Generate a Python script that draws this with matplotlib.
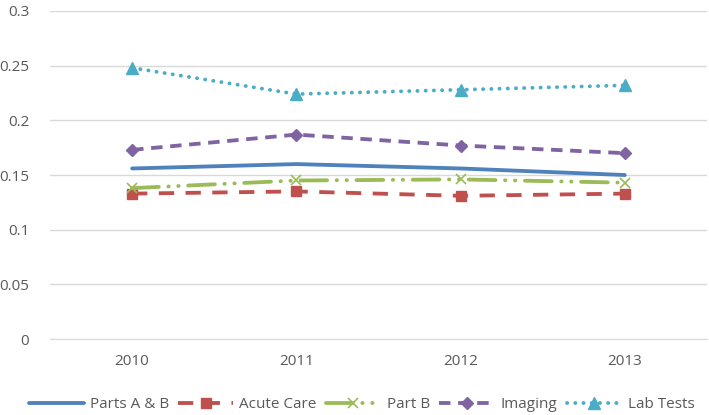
import matplotlib
matplotlib.use("Agg")
from matplotlib import pyplot as plt

c_blue = "#4F81BD"
c_red = "#C0504D"
c_green = "#9BBB59"
c_purple = "#8064A2"
c_aqua = "#4BACC6"
c_text = "#595959"
c_grid = "#D9D9D9"

years = ["2010", "2011", "2012", "2013"]
parts_ab = [0.156, 0.160, 0.156, 0.150]
acute_care = [0.133, 0.135, 0.131, 0.133]
part_b = [0.138, 0.145, 0.146, 0.143]
imaging = [0.173, 0.187, 0.177, 0.170]
lab_tests = [0.248, 0.224, 0.228, 0.232]

plt.rcParams["font.family"] = ["Open Sans", "DejaVu Sans"]

fig, ax = plt.subplots(figsize=(7.09, 4.15), dpi=100)
fig.subplots_adjust(left=0.0705, right=0.997, top=0.9735, bottom=0.183)

x = range(len(years))
lw = 2.75
ax.plot(x, parts_ab, color=c_blue, lw=lw, solid_capstyle="round", label="Parts A & B")
ax.plot(x, acute_care, color=c_red, lw=lw, ls=(0, (4, 3)),
        marker="s", ms=7.5, label="Acute Care")
ax.plot(x, part_b, color=c_green, lw=lw, ls=(0, (7, 2.5, 0.1, 2.5, 0.1, 2.5)),
        dash_capstyle="round", marker="x", ms=7, mew=1.2, label="Part B")
ax.plot(x, imaging, color=c_purple, lw=lw, ls=(0, (3, 2)),
        marker="D", ms=6.5, label="Imaging")
ax.plot(x, lab_tests, color=c_aqua, lw=lw, ls=(0, (0.05, 2.1)),
        dash_capstyle="round", marker="^", ms=8, label="Lab Tests")

ax.set_xlim(-0.5, 3.5)
ax.set_ylim(0, 0.3)
ax.set_xticks(list(x))
ax.set_xticklabels(years)
ax.set_yticks([0, 0.05, 0.1, 0.15, 0.2, 0.25, 0.3])
ax.set_yticklabels(["0", "0.05", "0.1", "0.15", "0.2", "0.25", "0.3"])
ax.grid(axis="y", color=c_grid, lw=1)
ax.set_axisbelow(True)
for s in ["top", "right", "left"]:
    ax.spines[s].set_visible(False)
ax.spines["bottom"].set_color(c_grid)
ax.tick_params(length=0, labelsize=11, labelcolor=c_text)
ax.tick_params(axis="y", pad=15)
ax.tick_params(axis="x", pad=11)

ax.legend(loc="center", bbox_to_anchor=(0.51, 0.025), bbox_transform=fig.transFigure,
          ncol=5, frameon=False, fontsize=11, labelcolor=c_text,
          handlelength=3.6, handletextpad=0.4, columnspacing=0.6)

plt.savefig("out.png")
